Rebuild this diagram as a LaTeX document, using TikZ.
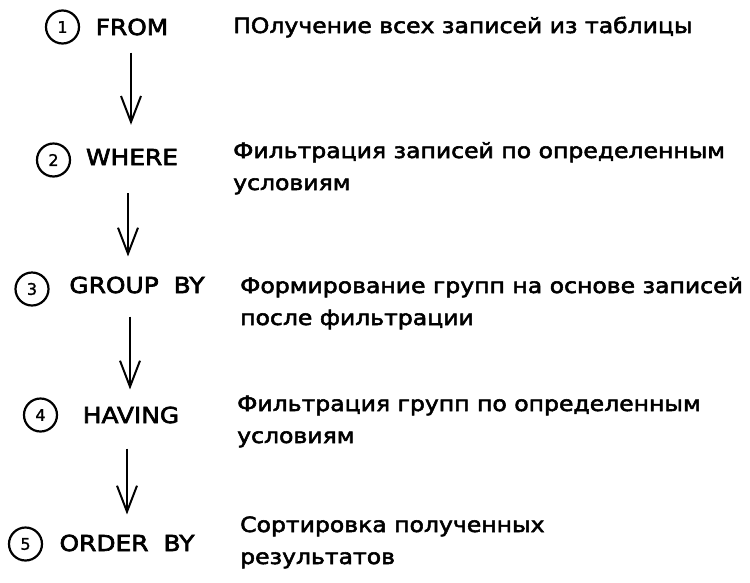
\documentclass[tikz,border=0pt]{standalone}
\usepackage{fontspec}
\setmainfont{DejaVu Sans}
\newfontfamily\lblfont[FakeStretch=1.13,WordSpace=1.9,FakeBold=3]{DejaVu Sans}
\newfontfamily\txtfont[FakeStretch=1.12,FakeBold=2.5]{DejaVu Sans}
\newfontfamily\numfont[FakeBold=1.5]{DejaVu Sans}
\usetikzlibrary{arrows.meta}
\begin{document}
\begin{tikzpicture}[x=1pt,y=-1pt,
  numcirc/.style={circle,draw,line width=2.2pt,minimum size=33pt,inner sep=0pt,font=\numfont\fontsize{16}{16}\selectfont},
  kw/.style={inner sep=0pt,font=\lblfont\fontsize{22}{22}\selectfont},
  desc/.style={anchor=base west,align=left,inner sep=0pt,font=\txtfont\fontsize{21}{32}\selectfont},
  flow/.style={line width=2pt,-{Straight Barb[length=26pt,width=20pt,line width=2pt]}}
]
\useasboundingbox[fill=white] (0,0) rectangle (750,582);

% step numbers
\node[numcirc] (c1) at (62.5,27) {1};
\node[numcirc] (c2) at (53.5,160) {2};
\node[numcirc] (c3) at (32,289) {3};
\node[numcirc] (c4) at (40.5,415) {4};
\node[numcirc] (c5) at (25.5,544) {5};

% clauses
\node[kw] (from)   at (132,27)  {FROM};
\node[kw] (where)  at (132,157) {WHERE};
\node[kw] (group)  at (137,285) {GROUP BY};
\node[kw] (having) at (131,415) {HAVING};
\node[kw] (order)  at (127,543) {ORDER BY};

% descriptions (anchored at the baseline of the last line)
\node[desc] (d1) at (233,33)  {ПОлучение всех записей из таблицы};
\node[desc] (d2) at (233,190) {Фильтрация записей по определенным\\условиям};
\node[desc] (d3) at (240,325) {Формирование групп на основе записей\\после фильтрации};
\node[desc] (d4) at (237,443) {Фильтрация групп по определенным\\условиям};
\node[desc] (d5) at (240,564) {Сортировка полученных\\результатов};

% flow arrows
\draw[flow,shorten <=17pt,shorten >=24pt] ([xshift=-1pt]from.south) -- ([xshift=-1pt]from.south |- where.north);
\draw[flow,shorten <=28pt,shorten >=20pt] ([xshift=-4pt]where.south) -- ([xshift=-4pt]where.south |- group.north);
\draw[flow,shorten <=23pt,shorten >=17pt] ([xshift=-7pt]group.south) -- ([xshift=-7pt]group.south |- having.north);
\draw[flow,shorten <=25pt,shorten >=20pt] ([xshift=-4pt]having.south) -- ([xshift=-4pt]having.south |- order.north);
\end{tikzpicture}
\end{document}
